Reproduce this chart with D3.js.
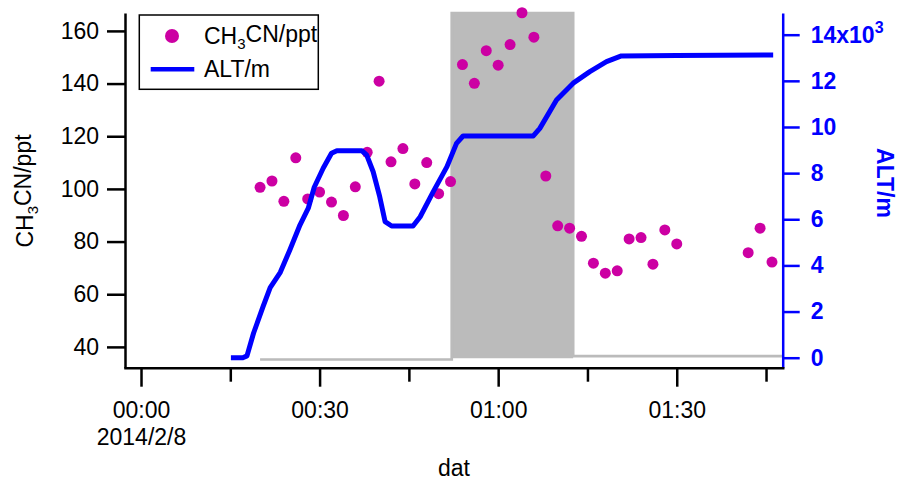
<!DOCTYPE html>
<meta charset="utf-8">
<style>
    body { margin: 0; background: #fff; }
    svg { font-family: "Liberation Sans", Arial, Helvetica, sans-serif; }
    .axis path, .axis line { stroke-width: 2.5; }
    .axis text { font-size: 23px; }
</style>
<body>
<script src="https://cdn.jsdelivr.net/npm/d3@7"></script>
<script>

    // minutes after 2014/2/8 00:00
    var cnTimes = [20, 22, 24, 26, 28, 30, 32, 34, 36, 38, 40, 42, 44, 46, 48, 50, 52,
                   54, 56, 58, 60, 62, 64, 66, 68, 70, 72, 74, 76, 78, 80, 82, 84, 86, 88, 90,
                   102, 104, 106];
    var cnValues = [100.6, 103.0, 95.3, 111.8, 96.2, 98.8, 95.0, 89.9, 100.8, 113.9, 140.9, 110.3,
                    115.3, 101.9, 110.0, 98.2, 102.8, 147.2, 140.1, 152.5, 147.0, 154.8, 166.9,
                    157.6, 104.9, 86.0, 85.1, 82.0, 71.8, 68.0, 68.9, 81.0, 81.5, 71.4, 84.4, 79.1,
                    75.8, 85.1, 72.2];

    var altTimes = [15.1, 17.1, 17.8, 18.9, 20.5, 21.7, 23.4, 25.0, 26.7, 28.1, 29.1, 30.6, 32.0,
                    32.9, 37.1, 37.9, 39.0, 40.1, 41.0, 42.1, 45.7, 46.9, 49.1, 51.4, 53.0, 54.1,
                    65.9, 67.0, 69.8, 72.6, 75.4, 78.2, 80.7, 90.0, 106.2];
    var altValues = [0, 0, 80, 1060, 2210, 3040, 3700, 4670, 5750, 6480, 7390, 8210, 8860,
                     8970, 8970, 8790, 8060, 6980, 5900, 5710, 5710, 6110, 7200, 8280, 9290, 9610,
                     9610, 9940, 11170, 11900, 12400, 12830, 13080, 13100, 13120];

    // sampling flag (shaded period)
    var flagTimes = [20, 52.2, 72.6, 107.8];
    var flagValues = [0, 1, 0.01, 0.01];

    var xMajorTicks = [0, 30, 60, 90];
    var xMinorTicks = [15, 45, 75, 105];
    var xTickLabels = ["00:00", "00:30", "01:00", "01:30"];
    var dateLabel = "2014/2/8";
    var yLeftTicks = [40, 60, 80, 100, 120, 140, 160];
    var yRightTicks = [0, 2000, 4000, 6000, 8000, 10000, 12000, 14000];

    var plotLeft = 125, plotRight = 782.7, plotTop = 13, plotBottom = 367.7;
    var magenta = "#cc00a3", blue = "#0000ff", grey = "#bbbbbb";

    var t0 = new Date(2014, 1, 8, 0, 0, 0);
    function tm(m) { return new Date(t0.getTime() + m * 60000); }

    var x = d3.scaleTime()
            .domain([tm(-2.69), tm(107.8)])
            .range([plotLeft, plotRight]);
    var yL = d3.scaleLinear()
            .domain([32.1, 166.8])
            .range([plotBottom, plotTop]);
    var yR = d3.scaleLinear()
            .domain([-433, 14940])
            .range([plotBottom, plotTop]);
    var yF = d3.scaleLinear()
            .domain([0, 1])
            .range([359.5, plotTop]);

    var svg = d3.select("body").append("svg")
            .attr("width", 898)
            .attr("height", 481);

    // flag trace; only the "on" period is filled down to zero
    var flagPts = flagTimes.map(function(t, i) { return {t: t, v: flagValues[i]}; });
    svg.append("path")
            .datum(flagPts)
            .attr("fill", grey)
            .attr("d", d3.area().curve(d3.curveStepAfter)
                .x(function(d) { return x(tm(d.t)); })
                .y0(function(d) { return d.v >= 0.5 ? yF(0) - 1.2 : yF(d.v); })
                .y1(function(d) { return yF(d.v); }));
    svg.append("path")
            .datum(flagPts)
            .attr("fill", "none")
            .attr("stroke", grey)
            .attr("stroke-width", 2.7)
            .attr("d", d3.line().curve(d3.curveStepAfter)
                .x(function(d) { return x(tm(d.t)); })
                .y(function(d) { return yF(d.v); }));

    // CH3CN markers
    svg.append("g").selectAll("circle")
            .data(cnTimes)
        .enter().append("circle")
            .attr("cx", function(d) { return x(tm(d)); })
            .attr("cy", function(d, i) { return yL(cnValues[i]); })
            .attr("r", 5.5)
            .attr("fill", magenta);

    // altitude
    svg.append("path")
            .datum(altTimes)
            .attr("fill", "none")
            .attr("stroke", blue)
            .attr("stroke-width", 5)
            .attr("stroke-linejoin", "round")
            .attr("d", d3.line()
                .x(function(d) { return x(tm(d)); })
                .y(function(d, i) { return yR(altValues[i]); }));

    // axes
    var gL = svg.append("g")
            .attr("class", "axis")
            .attr("transform", "translate(" + plotLeft + ",0)")
            .call(d3.axisLeft(yL).tickValues(yLeftTicks).tickSize(18).tickSizeOuter(0).tickPadding(8));
    gL.selectAll("path, line").attr("stroke", "#000");
    gL.selectAll("text").attr("fill", "#000");

    var gR = svg.append("g")
            .attr("class", "axis")
            .attr("transform", "translate(" + plotRight + ",0)")
            .call(d3.axisRight(yR).tickValues(yRightTicks).tickSize(17).tickSizeOuter(0).tickPadding(11)
                .tickFormat(function(d) { return d / 1000; }));
    gR.selectAll("path, line").attr("stroke", blue);
    gR.selectAll("text").attr("fill", blue).attr("font-weight", "bold");
    gR.selectAll(".tick text").filter(function(d) { return d === 14000; })
            .text("14x10")
        .append("tspan")
            .attr("dy", "-0.6em")
            .attr("font-size", "16px")
            .text("3");

    var gXm = svg.append("g")
            .attr("class", "axis")
            .attr("transform", "translate(0," + plotBottom + ")")
            .call(d3.axisBottom(x).tickValues(xMinorTicks.map(tm)).tickSize(14).tickSizeOuter(0)
                .tickFormat(""));
    gXm.select(".domain").remove();
    gXm.selectAll("line").attr("stroke", "#000");

    var gX = svg.append("g")
            .attr("class", "axis")
            .attr("transform", "translate(0," + plotBottom + ")")
            .call(d3.axisBottom(x).tickValues(xMajorTicks.map(tm)).tickSize(19).tickSizeOuter(0).tickPadding(15)
                .tickFormat(function(d, i) { return xTickLabels[i]; }));
    gX.selectAll("path, line").attr("stroke", "#000");
    gX.select(".domain").attr("stroke-linecap", "square");
    gX.selectAll("text").attr("fill", "#000");
    gX.select(".tick").append("text")
            .attr("y", 77.3)
            .attr("fill", "#000")
            .text(dateLabel);

    // axis titles
    var tL = svg.append("text")
            .attr("transform", "translate(33.3,191) rotate(-90)")
            .attr("text-anchor", "middle")
            .attr("font-size", "23px")
            .text("CH");
    tL.append("tspan").attr("dy", "0.3em").attr("font-size", "15px").text("3");
    tL.append("tspan").attr("dy", "-0.3em").text("CN/ppt");

    svg.append("text")
            .attr("transform", "translate(876.7,183) rotate(90)")
            .attr("text-anchor", "middle")
            .attr("font-size", "23px")
            .attr("font-weight", "bold")
            .attr("fill", blue)
            .text("ALT/m");

    svg.append("text")
            .attr("x", 454)
            .attr("y", 476)
            .attr("text-anchor", "middle")
            .attr("font-size", "23px")
            .text("dat");

    // legend
    var lg = svg.append("g");
    lg.append("rect")
            .attr("x", 139.3).attr("y", 15)
            .attr("width", 179).attr("height", 74.3)
            .attr("fill", "#fff")
            .attr("stroke", "#000")
            .attr("stroke-width", 1.5);
    lg.append("circle")
            .attr("cx", 172).attr("cy", 36).attr("r", 7)
            .attr("fill", magenta);
    lg.append("line")
            .attr("x1", 150.7).attr("x2", 194.3)
            .attr("y1", 69.3).attr("y2", 69.3)
            .attr("stroke", blue)
            .attr("stroke-width", 4.5);
    var l1 = lg.append("text")
            .attr("x", 204).attr("y", 44)
            .attr("font-size", "23px")
            .text("CH");
    l1.append("tspan").attr("dy", "0.3em").attr("font-size", "15px").text("3");
    l1.append("tspan").attr("dy", "-0.3em").text("CN/ppt");
    lg.append("text")
            .attr("x", 204).attr("y", 77.3)
            .attr("font-size", "23px")
            .text("ALT/m");

</script>
